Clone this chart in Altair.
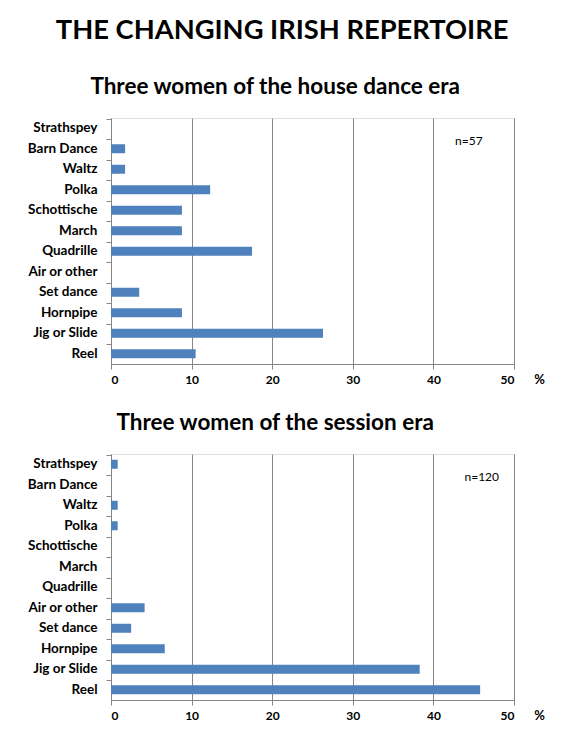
import altair as alt
import pandas as pd

# Tune types, listed top to bottom as in the chart
tune_types = ["Strathspey", "Barn Dance", "Waltz", "Polka", "Schottische", "March",
              "Quadrille", "Air or other", "Set dance", "Hornpipe", "Jig or Slide", "Reel"]

# Percent of repertoire for each era
house_dance_pct = [0, 1.75, 1.75, 12.3, 8.8, 8.8, 17.5, 0, 3.5, 8.8, 26.3, 10.5]
session_pct = [0.83, 0, 0.83, 0.83, 0, 0, 0, 4.17, 2.5, 6.67, 38.3, 45.8]

x_ticks = [0, 10, 20, 30, 40, 50]

FONT = "Lato"
BAR_COLOR = "#4F81BD"
GRID_COLOR = "#868686"


def panel(values, title, n_label, n_x):
    df = pd.DataFrame({"tune": tune_types, "pct": values})

    bars = alt.Chart(df).mark_bar(size=9, color=BAR_COLOR).encode(
        x=alt.X("pct:Q", scale=alt.Scale(domain=[0, 50], nice=False),
                axis=alt.Axis(values=x_ticks, title="%", titleAngle=0,
                              titleX=428, titleY=9, titleAlign="center",
                              titleBaseline="top", titleFontSize=13,
                              titleFont=FONT, titleFontWeight="bold",
                              labelFont=FONT, labelFontSize=12, labelFontWeight="bold",
                              labelColor="black", labelPadding=5,
                              grid=True, gridColor=GRID_COLOR, gridWidth=1,
                              domainColor=GRID_COLOR, tickColor=GRID_COLOR,
                              tickSize=5)),
        y=alt.Y("tune:N", sort=tune_types,
                axis=alt.Axis(title=None, bandPosition=0, labelFont=FONT,
                              labelFontSize=13.5, labelFontWeight="bold",
                              labelColor="black", labelPadding=9,
                              domainColor=GRID_COLOR, tickColor=GRID_COLOR,
                              tickSize=5, minExtent=97, maxExtent=97,
                              labelBound=False)),
    )

    note = alt.Chart(pd.DataFrame({"x": [n_x], "label": [n_label]})).mark_text(
        font=FONT, fontSize=12, color="black", align="center", baseline="middle"
    ).encode(x=alt.X("x:Q"), y=alt.value(23), text="label:N")

    return alt.layer(bars, note).properties(
        width=403, height=246,
        title=alt.TitleParams(title, font=FONT, fontSize=22.5, fontWeight="bold",
                              color="black", anchor="middle", frame="bounds",
                              dx=-4, offset=20),
    )


top = panel(house_dance_pct, "Three women of the house dance era", "n=57", 44.4)
bottom = panel(session_pct, "Three women of the session era", "n=120", 46)

chart = alt.vconcat(top, bottom, spacing=24).properties(
    padding={"top": 8, "left": 5, "right": 5, "bottom": 5},
    title=alt.TitleParams("THE CHANGING IRISH REPERTOIRE", font=FONT, fontSize=27.3,
                          fontWeight="bold", color="black", anchor="middle",
                          dx=3, offset=31),
).configure_view(stroke=None).configure(background="white")

chart.save("out.html", embed_options={"renderer": "svg", "actions": False})
